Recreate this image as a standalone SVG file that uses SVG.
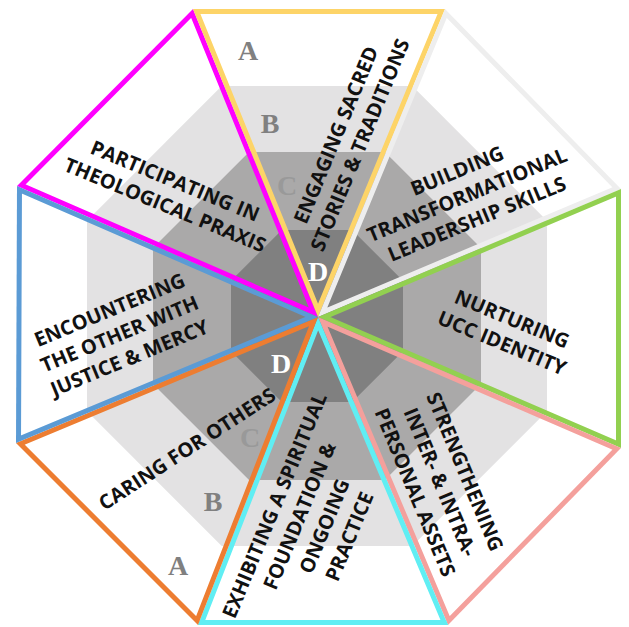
<svg xmlns="http://www.w3.org/2000/svg" xmlns:xlink="http://www.w3.org/1999/xlink" width="629" height="627" viewBox="0 0 629 627">
<style>
.lbl{font-family:"Open Sans","Liberation Sans",sans-serif;font-weight:700;font-size:20px;fill:#111;text-anchor:middle}
.ltr{font-family:"Liberation Serif","Times New Roman",serif;font-weight:700;font-size:28px;text-anchor:middle}
.tri{fill:none;stroke-width:10;stroke-linejoin:miter}
</style>
<defs>
<polygon id="t1" points="318,317 17,186 193,9"/>
<polygon id="t2" points="318,317 193,9 445,9"/>
<polygon id="t3" points="318,317 445,9 621,189"/>
<polygon id="t4" points="318,317 621,189 621,448"/>
<polygon id="t5" points="318,317 621,448 448,625"/>
<polygon id="t6" points="318,317 448,625 198,625"/>
<polygon id="t7" points="318,317 198,625 16,443"/>
<polygon id="t8" points="318,317 16,443 17,186"/>
<clipPath id="k1"><use xlink:href="#t1"/></clipPath>
<clipPath id="k2"><use xlink:href="#t2"/></clipPath>
<clipPath id="k3"><use xlink:href="#t3"/></clipPath>
<clipPath id="k4"><use xlink:href="#t4"/></clipPath>
<clipPath id="k5"><use xlink:href="#t5"/></clipPath>
<clipPath id="k6"><use xlink:href="#t6"/></clipPath>
<clipPath id="k7"><use xlink:href="#t7"/></clipPath>
<clipPath id="k8"><use xlink:href="#t8"/></clipPath>
</defs>
<rect width="629" height="627" fill="#ffffff"/>
<g id="bands">
<polygon fill="#e3e2e3" points="221.7,86 412.3,86 547,220.7 547,411.3 412.3,546 221.7,546 87,411.3 87,220.7"/>
<polygon fill="#aaa9a9" points="249.1,152 384.9,152 481,248.1 481,383.9 384.9,480 249.1,480 153,383.9 153,248.1"/>
<polygon fill="#808080" points="281.8,230 352.2,230 403,280.8 403,351.2 352.2,402 281.8,402 231,351.2 231,280.8"/>
</g>
<g id="connectors">
<use xlink:href="#t1" class="tri" stroke="#ff00ff" clip-path="url(#k1)"/>
<use xlink:href="#t2" class="tri" stroke="#fdd468" clip-path="url(#k2)"/>
<use xlink:href="#t3" class="tri" stroke="#eeeeee" clip-path="url(#k3)"/>
<use xlink:href="#t4" class="tri" stroke="#92d050" clip-path="url(#k4)"/>
<use xlink:href="#t5" class="tri" stroke="#f4a09c" clip-path="url(#k5)"/>
<use xlink:href="#t6" class="tri" stroke="#60eef3" stroke-width="5" clip-path="url(#k6)"/>
<line x1="198" y1="625" x2="448" y2="625" stroke="#60eef3" stroke-width="10" clip-path="url(#k6)"/>
<use xlink:href="#t7" class="tri" stroke="#ed7d31" clip-path="url(#k7)"/>
<use xlink:href="#t8" class="tri" stroke="#5b9bd5" clip-path="url(#k8)"/>
</g>
<g id="participating">
<text class="lbl" transform="translate(170,193) rotate(22.5)"><tspan x="0" y="-6">PARTICIPATING IN</tspan><tspan x="0" y="20">THEOLOGICAL PRAXIS</tspan></text>
</g>
<g id="engaging">
<text class="lbl" transform="translate(348,140) rotate(-67.5)"><tspan x="0" y="-6">ENGAGING SACRED</tspan><tspan x="0" y="20">STORIES &amp; TRADITIONS</tspan></text>
</g>
<g id="building">
<text class="lbl" transform="translate(467,195) rotate(-22.5)"><tspan x="0" y="-19">BUILDING</tspan><tspan x="0" y="7">TRANSFORMATIONAL</tspan><tspan x="0" y="33">LEADERSHIP SKILLS</tspan></text>
</g>
<g id="nurturing">
<text class="lbl" transform="translate(507,331) rotate(22.5)"><tspan x="0" y="-6">NURTURING</tspan><tspan x="0" y="20">UCC IDENTITY</tspan></text>
</g>
<g id="strengthening">
<text class="lbl" transform="translate(440,482) rotate(67.5)"><tspan x="0" y="-20">STRENGTHENING</tspan><tspan x="0" y="7">INTER- &amp; INTRA-</tspan><tspan x="0" y="34">PERSONAL ASSETS</tspan></text>
</g>
<g id="exhibiting">
<text class="lbl" transform="translate(312,521) rotate(-67.5)"><tspan x="0" y="-33.5">EXHIBITING A SPIRITUAL</tspan><tspan x="0" y="-6.5">FOUNDATION &amp;</tspan><tspan x="0" y="20.5">ONGOING</tspan><tspan x="0" y="47.5">PRACTICE</tspan></text>
</g>
<g id="caring">
<text class="lbl" transform="translate(187,449) rotate(-33)"><tspan x="0" y="7">CARING FOR OTHERS</tspan></text>
</g>
<g id="encountering">
<text class="lbl" transform="translate(119.5,334) rotate(-22.5)"><tspan x="0" y="-19">ENCOUNTERING</tspan><tspan x="0" y="7">THE OTHER WITH</tspan><tspan x="0" y="33">JUSTICE &amp; MERCY</tspan></text>
</g>
<g id="levels">
<text class="ltr" x="248" y="60" fill="#808080">A</text>
<text class="ltr" x="270" y="133" fill="#808080">B</text>
<text class="ltr" x="287" y="195" fill="#999999">C</text>
<text class="ltr" x="318" y="281" fill="#ffffff">D</text>
<text class="ltr" x="281" y="373" fill="#ffffff">D</text>
<text class="ltr" x="250" y="447" fill="#999999">C</text>
<text class="ltr" x="213" y="511" fill="#808080">B</text>
<text class="ltr" x="178" y="575" fill="#808080">A</text>
</g>
</svg>
